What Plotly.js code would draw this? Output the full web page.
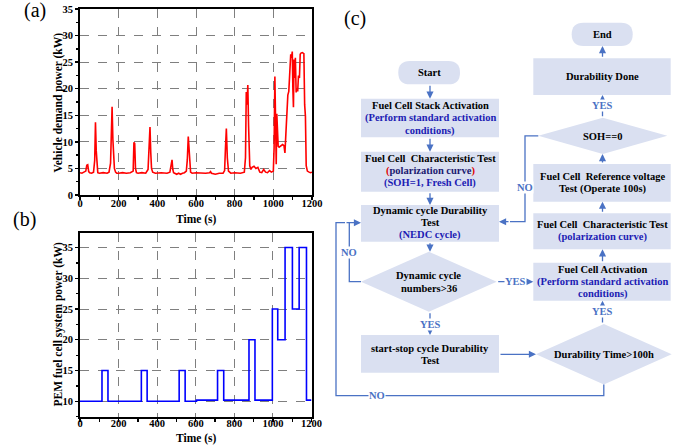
<!DOCTYPE html>
<html><head><meta charset="utf-8">
<script src="https://cdn.plot.ly/plotly-3.0.1.min.js"></script>
<style>html,body{margin:0;padding:0;background:#fff}#chart{width:687px;height:448px}</style>
</head><body><div id="chart"></div>
<script>
// ---------- data ----------
const demandTime = [0,10,20,30,35,40,45,50,60,70,
  76,80,84,88,92,100,120,140,150,158,
  163,166,170,174,178,184,190,200,220,240,
  260,275,279,283,287,292,300,320,340,352,
  358,362,366,370,376,390,420,450,465,472,
  476,480,484,490,500,510,520,530,540,550,
  555,560,564,568,572,580,600,650,670,675,
  680,700,720,740,748,752,757,762,768,780,
  800,830,850,856,860,864,868,872,878,884,
  890,900,910,920,930,940,950,960,970,980,
  990,1000,1004,1008,1012,1015,1018,1021,1025,1030,
  1040,1048,1055,1060,1065,1070,1075,1080,1085,1090,
  1094,1098,1101,1104,1107,1110,1114,1118,1122,1126,
  1130,1135,1139,1143,1150,1158,1162,1166,1170,1176,
  1185,1192,1200];
const demandPower = [4.2,4.1,4.3,4.5,5.6,5.7,4.4,4.2,4.1,4.3,
  6.5,13.7,8.3,4.6,4.2,4.1,4.2,4.1,4.3,6.0,
  12.0,16.6,10.5,7.0,5.0,4.3,4.1,4.1,4.2,4.1,
  4.2,4.5,9.9,9.7,5.0,4.2,4.1,4.2,4.1,4.8,
  9.0,12.8,8.0,5.0,4.3,4.1,4.2,4.1,4.3,5.5,
  6.6,4.8,4.2,4.1,3.9,4.1,3.9,4.1,4.2,4.5,
  6.6,11.0,8.3,5.2,4.3,4.1,4.2,4.1,4.2,4.4,
  4.1,3.9,4.1,4.1,4.6,8.5,12.5,7.0,4.5,4.1,
  4.2,4.1,4.3,7.0,19.4,17.0,20.7,13.0,5.5,4.8,
  5.2,5.4,5.0,5.2,4.3,4.2,4.8,4.3,4.2,4.6,
  4.3,4.5,9.0,22.3,12.0,5.8,15.3,11.0,9.2,9.0,
  9.3,9.5,9.3,7.9,11.6,16.0,18.8,19.5,24.5,26.5,
  25.8,27.0,20.0,16.5,25.5,22.0,25.8,19.3,20.0,19.5,
  22.5,22.0,26.5,26.7,26.8,26.6,17.0,14.8,5.5,4.5,
  4.3,4.2,4.3];

const fcTime  = [0,114,145,318,348,514,545,604,713,745,876,907,997,1025,1063,1101,1136,1174,1200];
const fcPower = [10,15,10,15,10,15,10,10.2,15,10.2,20,10.2,25,20,35,25,35,10.2,10.2];

const xTicks = [0,200,400,600,800,1000,1200];
const yTicksA = [0,5,10,15,20,25,30,35];
const yTicksB = [10,15,20,25,30,35];

const labelA = '(a)', labelB = '(b)', labelC = '(c)';
const xTitle = 'Time (s)';
const yTitleA = 'Vehicle demand power (kW)';
const yTitleB = 'PEM fuel cell system power (kW)';

// ---------- helpers ----------
const W = 687, H = 448;
const X = p => p / W, Y = p => 1 - p / H;
const SERIF = '"Liberation Serif", "Times New Roman", serif';
const BOX = '#dae0f1', LINE = '#4a72c4', BLUE = '#1c1cb4', RED = '#e00000';
const shapes = [], annos = [];

function rect(x0, y0, x1, y1) {
  shapes.push({type:'rect', xref:'paper', yref:'paper', x0:X(x0), x1:X(x1), y0:Y(y1), y1:Y(y0),
    fillcolor:BOX, line:{width:0}});
}
function diamond(x0, y0, x1, y1) {
  const cx = (x0 + x1) / 2, cy = (y0 + y1) / 2;
  shapes.push({type:'path', xref:'paper', yref:'paper',
    path:`M ${X(cx)},${Y(y0)} L ${X(x1)},${Y(cy)} L ${X(cx)},${Y(y1)} L ${X(x0)},${Y(cy)} Z`,
    fillcolor:BOX, line:{width:0}});
}
function pill(x0, y0, x1, y1) {
  const r = (y1 - y0) / 2;
  const p = [
    `M ${X(x0 + r)},${Y(y0)}`, `L ${X(x1 - r)},${Y(y0)}`,
    `Q ${X(x1)},${Y(y0)} ${X(x1)},${Y(y0 + r)}`, `Q ${X(x1)},${Y(y1)} ${X(x1 - r)},${Y(y1)}`,
    `L ${X(x0 + r)},${Y(y1)}`,
    `Q ${X(x0)},${Y(y1)} ${X(x0)},${Y(y0 + r)}`, `Q ${X(x0)},${Y(y0)} ${X(x0 + r)},${Y(y0)}`, 'Z'
  ].join(' ');
  shapes.push({type:'path', xref:'paper', yref:'paper', path:p, fillcolor:BOX, line:{width:0}});
}
function poly(pts) {
  const p = pts.map((q, i) => (i ? 'L ' : 'M ') + X(q[0]) + ',' + Y(q[1])).join(' ');
  shapes.push({type:'path', xref:'paper', yref:'paper', path:p, line:{color:LINE, width:1.3}});
}
function arrow(tx, ty, hx, hy) {
  annos.push({xref:'paper', yref:'paper', x:X(hx), y:Y(hy), axref:'pixel', ayref:'pixel',
    ax:tx - hx, ay:ty - hy, text:'', showarrow:true, arrowhead:2, arrowsize:1.1,
    arrowwidth:1.3, arrowcolor:LINE, standoff:0, startstandoff:0});
}
function txt(x, y, t, color, size, extra) {
  annos.push(Object.assign({xref:'paper', yref:'paper', x:X(x), y:Y(y), text:t, showarrow:false,
    xanchor:'center', yanchor:'middle',
    font:{family:SERIF, size:size || 10.5, color:color || '#000', weight:'bold'}}, extra || {}));
}
function tag(x, y, t) {
  txt(x, y, t, LINE, 10.5, {bgcolor:'#ffffff', borderpad:0});
}

// ---------- flowchart ----------
const LX = 430, RX = 602.5;
pill(398.3, 61, 460, 84.3);
rect(361, 98.7, 499, 137.3);
rect(361, 151.7, 499, 191.7);
rect(361, 205, 499, 241.7);
diamond(361, 251.7, 496.7, 311.7);
rect(361, 335, 499, 372.7);
diamond(536, 324, 671.7, 384.5);
rect(533.3, 262.7, 670.7, 300.7);
rect(533.3, 213.3, 670.7, 249.3);
rect(533.3, 164, 670.7, 201.7);
diamond(538.3, 117.7, 667.3, 154);
rect(533.3, 58.3, 670.7, 95);
pill(571.7, 22.7, 632.7, 46);

// connectors
arrow(LX, 84.3, LX, 98.7);
arrow(LX, 137.3, LX, 151.7);
arrow(LX, 191.7, LX, 205);
arrow(LX, 241.7, LX, 251.7);
arrow(LX, 311.7, LX, 335);
arrow(499, 354.3, 536, 354.3);
poly([[603.8, 384.5], [603.8, 395.7], [336, 395.7], [336, 222.7], [345, 222.7]]);
poly([[361, 281.7], [349.3, 281.7], [349.3, 222.7]]);
arrow(345, 222.7, 361, 222.7);
arrow(496.7, 281.7, 533.3, 281.7);
arrow(RX, 324, RX, 300.7);
arrow(RX, 262.7, RX, 249.3);
arrow(RX, 213.3, RX, 201.7);
arrow(RX, 164, RX, 154);
arrow(RX, 117.7, RX, 95);
arrow(RX, 58.3, RX, 46);
poly([[538.3, 135.8], [525, 135.8], [525, 221.7], [510, 221.7]]);
arrow(510, 221.7, 499, 221.7);

// box texts
txt(429.2, 72.7, 'Start');
txt(LX, 106, 'Fuel Cell Stack Activation');
txt(LX, 118.3, '(Perform standard activation', BLUE);
txt(LX, 130.7, 'conditions)', BLUE);
txt(LX, 158.3, 'Fuel Cell  Characteristic Test');
txt(LX, 170.7, `<span style="color:${RED}">(</span>polarization curve<span style="color:${RED}">)</span>`, '#1a1a70');
txt(LX, 183.3, '(SOH=1, Fresh Cell)', BLUE);
txt(LX, 210.7, 'Dynamic cycle Durability');
txt(LX, 222.9, 'Test');
txt(LX, 235.3, '(NEDC cycle)', BLUE);
txt(428.8, 275.2, 'Dynamic cycle');
txt(428.8, 288.3, 'numbers>36');
txt(LX, 348.3, 'start-stop cycle Durability');
txt(LX, 360.5, 'Test');
txt(603.8, 354.5, 'Durability Time>100h');
txt(RX, 269.3, 'Fuel Cell Activation');
txt(RX, 281.8, '(Perform standard activation', BLUE);
txt(RX, 294.3, 'conditions)', BLUE);
txt(RX, 224.8, 'Fuel Cell  Characteristic Test');
txt(RX, 237.3, '(polarization curve)', BLUE);
txt(RX, 176.7, 'Fuel Cell  Reference voltage');
txt(RX, 189.3, 'Test (Operate 100s)');
txt(RX, 136, 'SOH==0');
txt(RX, 76.3, 'Durability Done');
txt(602.2, 34.3, 'End');

// YES / NO tags
tag(RX, 106, 'YES');
tag(RX, 311.8, 'YES');
tag(LX, 324, 'YES');
tag(515, 281.7, 'YES');
tag(525, 187.7, 'NO');
tag(349.3, 252.3, 'NO');
tag(376.7, 395.7, 'NO');

// panel labels and axis titles
const panelFont = {family:SERIF, size:20, color:'#000'};
const pl = {xref:'paper', yref:'paper', showarrow:false, font:panelFont, xanchor:'center', yanchor:'middle'};
annos.push(Object.assign({x:X(34.5), y:Y(10.5), text:labelA}, pl));
annos.push(Object.assign({x:X(24.5), y:Y(219), text:labelB}, pl));
annos.push(Object.assign({x:X(354.5), y:Y(18.5), text:labelC}, pl));
txt(196.5, 219.5, xTitle, '#000', 11.5);
txt(196.5, 438, xTitle, '#000', 11.5);
txt(57.5, 103, yTitleA, '#000', 11.5, {textangle:-90});
txt(57.5, 325, yTitleB, '#000', 11.5, {textangle:-90});

// ---------- traces ----------
const traces = [
  {x:demandTime, y:demandPower, type:'scatter', mode:'lines', xaxis:'x', yaxis:'y',
   line:{color:'#ff0000', width:1.6}, hoverinfo:'skip'},
  {x:fcTime, y:fcPower, type:'scatter', mode:'lines', xaxis:'x2', yaxis:'y2',
   line:{color:'#0000ff', width:1.6, shape:'hv'}, hoverinfo:'skip'}
];

const tickFont = {family:SERIF, size:10.5, color:'#000', weight:'bold'};
function axisBase(extra) {
  return Object.assign({showline:true, mirror:true, linecolor:'#000', linewidth:2,
    showgrid:true, gridcolor:'#7f7f7f', griddash:'dash', gridwidth:1,
    zeroline:false, ticks:'outside', ticklen:3, tickwidth:1.3, tickcolor:'#000',
    tickfont:tickFont, fixedrange:true}, extra);
}
const minorX = {dtick:100, ticks:'outside', ticklen:2.5, tickcolor:'#000', showgrid:false};
const minorY = {dtick:2.5, ticks:'outside', ticklen:2.5, tickcolor:'#000', showgrid:false};

const layout = {
  width:W, height:H, margin:{l:0, r:0, t:0, b:0},
  paper_bgcolor:'#fff', plot_bgcolor:'#fff', showlegend:false,
  xaxis: axisBase({domain:[X(80), X(312)], range:[0,1200], tickvals:xTicks, anchor:'y',
    ticklabelstandoff:-6, minor:minorX}),
  yaxis: axisBase({domain:[Y(195), Y(9)], range:[0,35], tickvals:yTicksA, anchor:'x', minor:minorY}),
  xaxis2: axisBase({domain:[X(80), X(311.5)], range:[0,1200], tickvals:xTicks, anchor:'y2',
    ticklabelstandoff:-8, minor:minorX}),
  yaxis2: axisBase({domain:[Y(417), Y(232.7)], range:[7.45,37.4], tickvals:yTicksB, anchor:'x2', minor:minorY}),
  shapes: shapes,
  annotations: annos
};

Plotly.newPlot('chart', traces, layout, {staticPlot:true, displayModeBar:false});
</script></body></html>
